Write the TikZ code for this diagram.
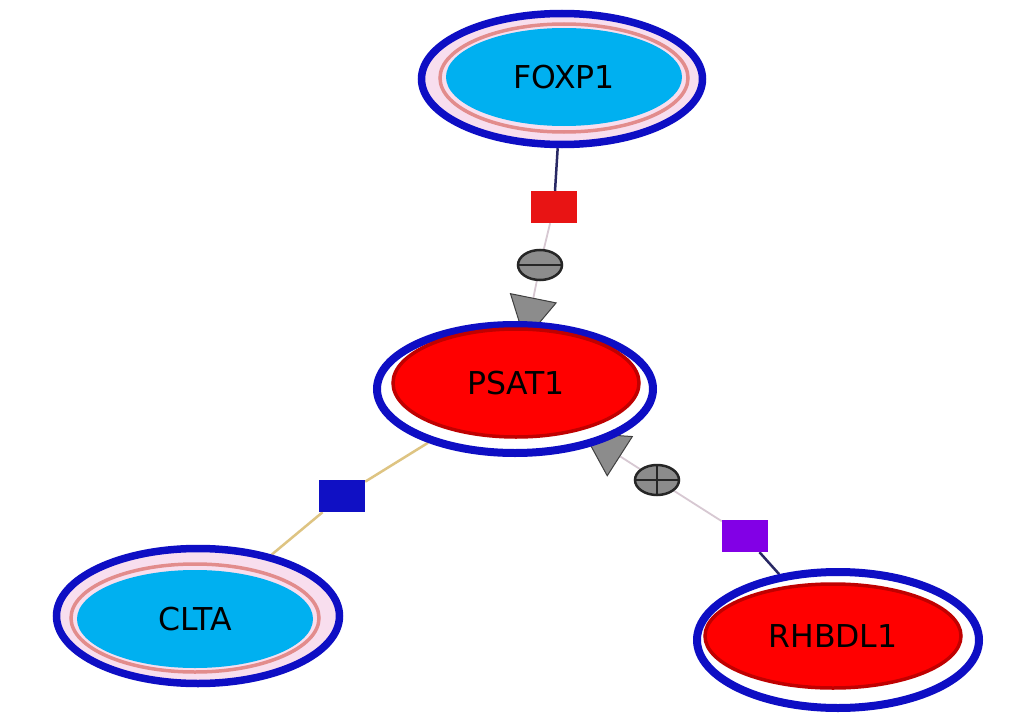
\documentclass[tikz,border=0pt]{standalone}
\usepackage{fontspec}
\setmainfont{DejaVu Sans}
\usetikzlibrary{shapes.geometric,arrows.meta,backgrounds}
\definecolor{ringblue}{RGB}{14,14,196}
\definecolor{cyanfill}{RGB}{0,176,240}
\definecolor{redfill}{RGB}{255,0,0}
\definecolor{redborder}{RGB}{192,0,0}
\definecolor{salmonc}{RGB}{226,140,140}
\definecolor{paleP}{RGB}{248,222,238}
\definecolor{navyln}{RGB}{40,40,100}
\definecolor{lightln}{RGB}{215,200,210}
\definecolor{tanln}{RGB}{222,196,130}
\definecolor{sqred}{RGB}{232,20,20}
\definecolor{sqpurple}{RGB}{130,0,230}
\definecolor{sqblue}{RGB}{16,16,196}
\definecolor{knob}{RGB}{140,140,140}
\tikzset{
  outerring/.style={ellipse, draw=ringblue, line width=7.5pt, inner sep=0pt},
  salmonring/.style={ellipse, draw=salmonc, line width=3.5pt, fill=paleP, inner sep=0pt},
  cyannode/.style={ellipse, fill=cyanfill, inner sep=0pt, font=\fontsize{31.5}{38}\selectfont},
  rednode/.style={ellipse, fill=redfill, draw=redborder, line width=3.5pt, inner sep=0pt, font=\fontsize{31.5}{38}\selectfont},
  sq/.style={rectangle, minimum width=46pt, minimum height=32pt, inner sep=0pt},
  knobnode/.style={ellipse, fill=knob, draw=black!85, line width=2.5pt, minimum width=44pt, minimum height=30pt, inner sep=0pt},
  minussign/.style={path picture={\draw[black!85, line width=2pt] (path picture bounding box.west) -- (path picture bounding box.east);}},
  plussign/.style={path picture={\draw[black!85, line width=2pt] (path picture bounding box.west) -- (path picture bounding box.east) (path picture bounding box.north) -- (path picture bounding box.south);}},
  tri/.style={-{Triangle[width=48pt,length=44pt,color=black!75,fill=knob,line width=1pt]}, shorten >=-20pt},
  dark/.style={navyln, line width=2.5pt},
  light/.style={lightln, line width=1.8pt},
  tanl/.style={tanln, line width=2.5pt}
}
\begin{document}
\begin{tikzpicture}[x=1pt,y=-1pt]
\useasboundingbox (0,0) rectangle (1010,717);
% FOXP1
\node[outerring, fill=paleP, minimum width=281pt, minimum height=131pt] (FOXP1) at (562,79) {};
\node[salmonring, minimum width=248pt, minimum height=108pt] (FOXP1ring) at (564,78) {};
\node[cyannode, minimum width=236pt, minimum height=98pt] (FOXP1in) at (564,77) {FOXP1};
% CLTA
\node[outerring, fill=paleP, minimum width=283pt, minimum height=135pt] (CLTA) at (198,616) {};
\node[salmonring, minimum width=248pt, minimum height=108pt] (CLTAring) at (195,618) {};
\node[cyannode, minimum width=236pt, minimum height=98pt] (CLTAin) at (195,619) {CLTA};
% PSAT1
\node[outerring, fill=white, line width=8pt, minimum width=276pt, minimum height=128pt] (PSAT1) at (515,389) {};
\node[rednode, minimum width=246pt, minimum height=108pt] (PSAT1in) at (516,383) {PSAT1};
% RHBDL1
\node[outerring, fill=white, line width=8pt, minimum width=282pt, minimum height=136pt] (RHBDL1) at (838,640) {};
\node[rednode, minimum width=256pt, minimum height=104pt] (RHBDL1in) at (833,636) {RHBDL1};
% squares and knobs
\node[sq, fill=sqred] (sqA) at (554,207) {};
\node[sq, fill=sqpurple] (sqB) at (745,536) {};
\node[sq, fill=sqblue] (sqC) at (342,496) {};
\node[knobnode, minussign] (minus) at (540,265) {};
\node[knobnode, plussign] (plus) at (657,480) {};
\begin{scope}[on background layer]
\fill[white] (0,0) rectangle (1010,717);
\draw[dark] (FOXP1) -- (sqA);
\draw[light] (sqA) -- (minus);
\draw[light, tri] (minus) -- (PSAT1);
\draw[dark] (RHBDL1) -- (sqB);
\draw[light] (sqB) -- (plus);
\draw[light, tri] (plus) -- (PSAT1);
\draw[tanl] (CLTA) -- (sqC);
\draw[tanl] (sqC) -- (PSAT1);
\end{scope}
\end{tikzpicture}
\end{document}
